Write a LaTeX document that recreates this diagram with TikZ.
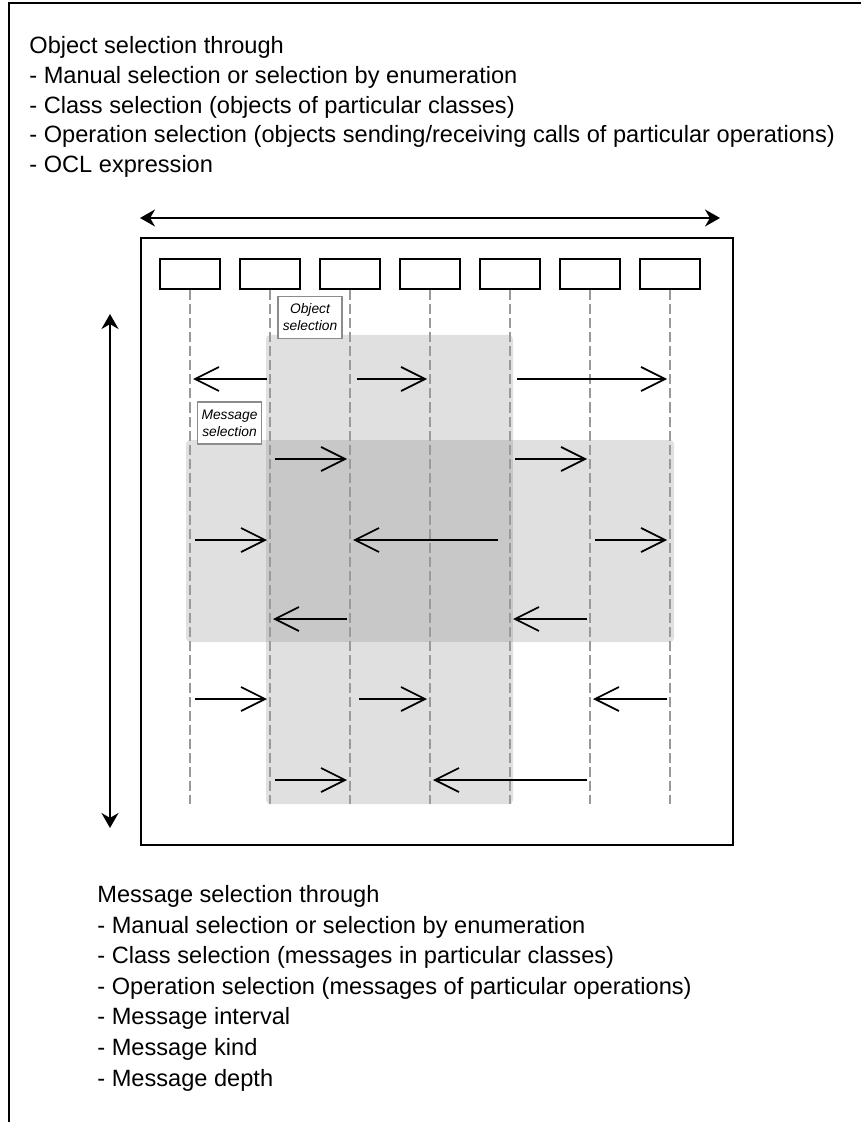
\documentclass[tikz,border=0pt]{standalone}
\usepackage{fontspec}
\setmainfont{Liberation Sans}
\usetikzlibrary{arrows.meta}
\definecolor{selgray}{HTML}{E0E0E0}
\definecolor{seldark}{HTML}{C8C8C8}
\definecolor{lifegray}{HTML}{9A9A9A}
\definecolor{labgray}{HTML}{8C8C8C}
\tikzset{
  lifehead/.style={draw,line width=1pt,minimum width=30pt,minimum height=15pt,inner sep=0pt},
  lifeline/.style={draw=lifegray,line width=0.9pt,dash pattern=on 5pt off 2pt},
  msg/.style={line width=0.85pt,-{Straight Barb[length=12pt,width=12pt]},shorten >=1.5pt},
  axis/.style={line width=1pt,{Stealth[length=7.5pt,width=8.5pt]}-{Stealth[length=7.5pt,width=8.5pt]}},
  selbox/.style={draw=labgray,line width=0.9pt,fill=white,align=center,inner sep=0.5pt,
                 minimum width=32pt,minimum height=21pt,font=\fontsize{6.9}{8.5}\selectfont\itshape},
  listtxt/.style={anchor=north west,inner sep=0pt,align=left},
  selregion/.style={fill=selgray,rounded corners=2pt},
}
\begin{document}
\begin{tikzpicture}[x=0.5pt,y=-0.5pt]
  \useasboundingbox (0,0) rectangle (861,1122);
  % outer frame, open at right and bottom
  \draw[line width=1pt] (861,3) -- (9,3) -- (9,1122);
  \node[listtxt,font=\fontsize{11.8}{14.9}\selectfont] (objtxt) at (29,36) {Object selection through\\
    - Manual selection or selection by enumeration\\
    - Class selection (objects of particular classes)\\
    - Operation selection (objects sending/receiving calls of particular operations)\\
    - OCL expression};
  % selected column and row
  \fill[selregion] (266,335) rectangle (513,804);
  \fill[selregion] (186,440) rectangle (674,642);
  \fill[seldark] (266,440) rectangle (513,642);
  \draw[line width=1.1pt] (141,238) rectangle (733,845);
  \coordinate (hl) at (140,218);
  \coordinate (hr) at (720,218);
  \coordinate (vt) at (110,314);
  \coordinate (vb) at (110,828);
  \draw[axis] (hl) -- (hr);
  \draw[axis] (vt) -- (vb);
  % objects and lifelines
  \foreach \i in {1,...,7} {
    \node[lifehead] (o\i) at (110+80*\i,274.5) {};
    \coordinate (e\i) at (110+80*\i,804);
    \draw[lifeline] (o\i.south) -- (e\i);
  }
  % messages
  \foreach \r/\y in {1/379,2/459,3/540,4/619,5/699,6/780}
    \coordinate (r\r) at (0,\y);
  \foreach \a/\b/\r/\s in {2/1/1/1.5pt,3/4/1/3.5pt,5/7/1/3.5pt,
                          2/3/2/2.5pt,5/6/2/2.5pt,
                          1/2/3/2.5pt,5/3/3/6pt,6/7/3/2.5pt,
                          3/2/4/1.5pt,6/5/4/1.5pt,
                          1/2/5/2.5pt,3/4/5/4.5pt,7/6/5/1.5pt,
                          2/3/6/2.5pt,6/4/6/1.5pt}
    \draw[msg,shorten <=\s] (o\a |- r\r) -- (o\b |- r\r);
  \node[selbox] (objsel) at (310,317.5) {Object\\selection};
  \node[selbox] (msgsel) at (229.5,423) {Message\\selection};
  \node[listtxt,font=\fontsize{11.8}{15.3}\selectfont] (msgtxt) at (97,885) {Message selection through\\
    - Manual selection or selection by enumeration\\
    - Class selection (messages in particular classes)\\
    - Operation selection (messages of particular operations)\\
    - Message interval\\
    - Message kind\\
    - Message depth};
\end{tikzpicture}
\end{document}
